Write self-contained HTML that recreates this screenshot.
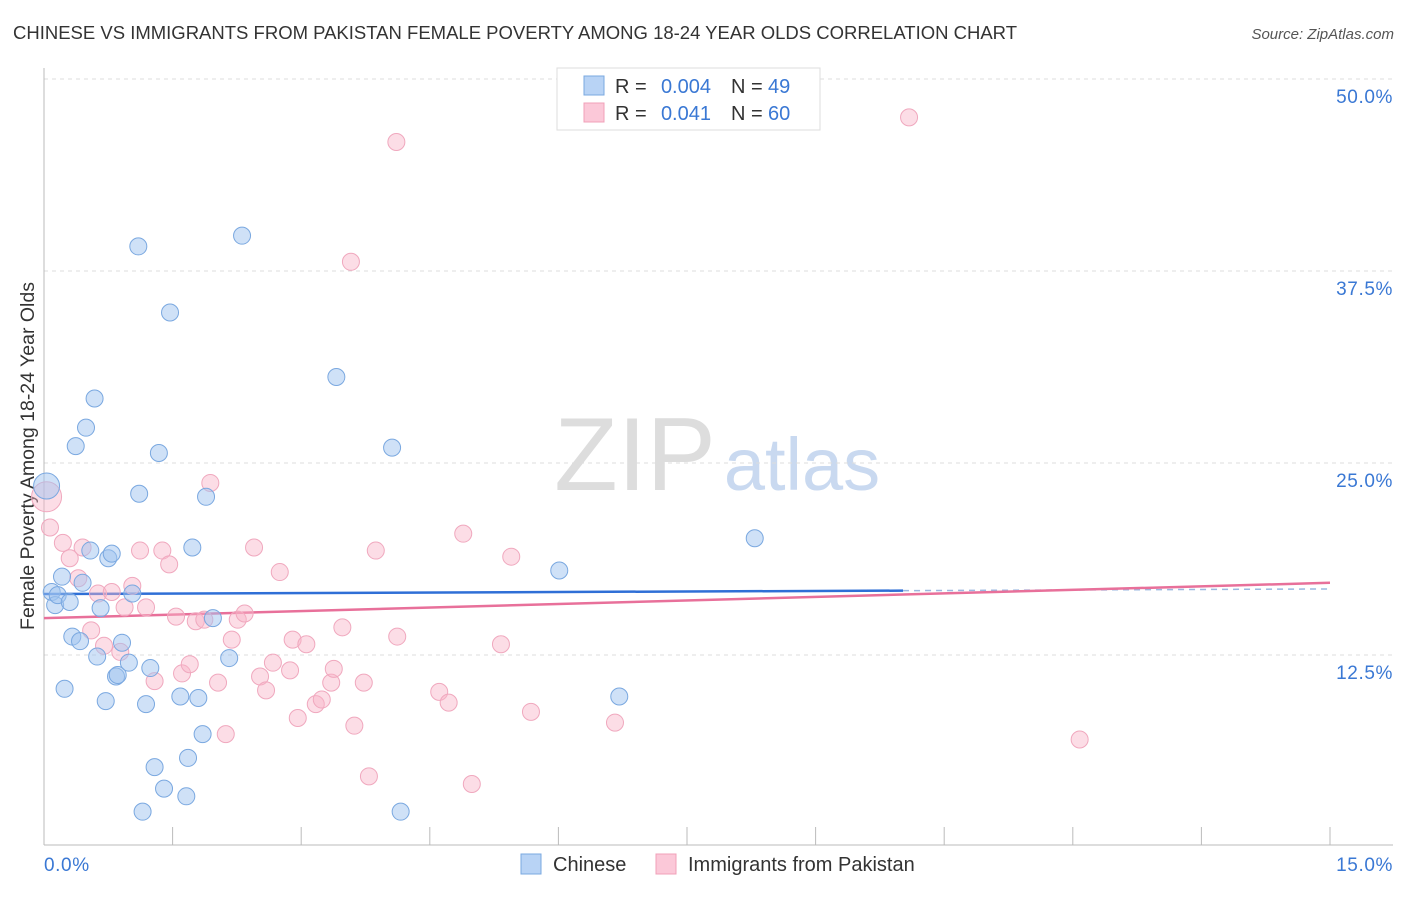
<!DOCTYPE html>
<html><head><meta charset="utf-8"><style>
body{margin:0;background:#fff;font-family:"Liberation Sans",sans-serif}
svg text{font-family:"Liberation Sans",sans-serif}
</style></head><body>
<svg id="chart" width="1406" height="892" viewBox="0 0 1406 892" xmlns="http://www.w3.org/2000/svg">
<text x="13" y="39" font-size="18.5" fill="#333">CHINESE VS IMMIGRANTS FROM PAKISTAN FEMALE POVERTY AMONG 18-24 YEAR OLDS CORRELATION CHART</text>
<text x="1394" y="39" font-size="15" fill="#555" font-style="italic" text-anchor="end">Source: ZipAtlas.com</text>
<g>
<text x="635" y="490" font-size="104" fill="#ddd" font-family="Liberation Serif" text-anchor="middle">ZIP</text>
<text x="802" y="490" font-size="74" fill="#c9d9f0" text-anchor="middle">atlas</text>
</g>
<g id="grid"></g>
<g id="axes"></g>
<text transform="translate(34,456) rotate(-90)" font-size="19.5" fill="#333" text-anchor="middle">Female Poverty Among 18-24 Year Olds</text>
<g id="trends"></g>
<g id="points"></g>
<g>
<rect x="557" y="68" width="263" height="62" fill="#fff" stroke="#ddd"/>
<rect x="584" y="76" width="20" height="19" fill="#b8d3f5" stroke="#7aa8e0"/>
<rect x="584" y="103" width="20" height="19" fill="#fbc8d8" stroke="#f0a0b8"/>
<text x="615" y="93" font-size="20" fill="#333">R =</text>
<text x="711" y="93" font-size="20" fill="#3a78d4" text-anchor="end">0.004</text>
<text x="731" y="93" font-size="20" fill="#333">N =</text>
<text x="768" y="93" font-size="20" fill="#3a78d4">49</text>
<text x="615" y="120" font-size="20" fill="#333">R =</text>
<text x="711" y="120" font-size="20" fill="#3a78d4" text-anchor="end">0.041</text>
<text x="731" y="120" font-size="20" fill="#333">N =</text>
<text x="768" y="120" font-size="20" fill="#3a78d4">60</text>
</g>
<g>
<rect x="521" y="854" width="20" height="20" fill="#b8d3f5" stroke="#7aa8e0"/>
<text x="553" y="871" font-size="20" fill="#333">Chinese</text>
<rect x="656" y="854" width="20" height="20" fill="#fbc8d8" stroke="#f0a0b8"/>
<text x="688" y="871" font-size="20" fill="#333">Immigrants from Pakistan</text>
</g>
</svg>
<script>
const yTicks=[12.5,25,37.5,50];
const yTickLabels=["12.5%","25.0%","37.5%","50.0%"];
const xTickCount=10;
const xMin=0,xMax=15,yMin=0,yMax=50;
const blueX=[0.03,0.09,0.13,0.16,0.21,0.30,0.24,0.33,0.37,0.42,0.45,0.49,0.54,0.59,0.62,0.66,0.72,0.75,0.79,0.84,0.86,0.91,0.99,1.03,1.10,1.11,1.15,1.19,1.24,1.29,1.34,1.40,1.47,1.59,1.66,1.68,1.73,1.80,1.85,1.89,1.97,2.16,2.31,3.41,4.06,4.16,6.01,6.71,8.29];
const blueY=[23.5,16.6,15.75,16.4,17.6,15.95,10.3,13.7,26.1,13.4,17.2,27.3,19.3,29.2,12.4,15.55,9.5,18.8,19.1,11.1,11.2,13.3,12.0,16.5,39.1,23.0,2.3,9.3,11.65,5.2,25.65,3.8,34.8,9.8,3.3,5.8,19.5,9.7,7.35,22.8,14.9,12.3,39.8,30.6,26.0,2.3,18.0,9.8,20.1];
const pinkX=[0.03,0.07,0.22,0.30,0.40,0.45,0.55,0.63,0.70,0.79,0.89,0.94,1.03,1.12,1.19,1.29,1.38,1.46,1.54,1.61,1.70,1.77,1.87,1.94,2.03,2.12,2.19,2.26,2.34,2.45,2.52,2.59,2.67,2.75,2.87,2.90,2.96,3.06,3.17,3.24,3.35,3.38,3.48,3.58,3.62,3.73,3.79,3.87,4.11,4.12,4.61,4.72,4.89,4.99,5.33,5.45,5.68,6.66,10.09,12.08];
const pinkY=[22.8,20.8,19.8,18.8,17.5,19.5,14.1,16.5,13.1,16.6,12.7,15.6,17.0,19.3,15.6,10.8,19.3,18.4,15.0,11.3,11.9,14.7,14.8,23.7,10.7,7.35,13.5,14.8,15.2,19.5,11.1,10.2,12.0,17.9,11.5,13.5,8.4,13.2,9.3,9.6,10.7,11.6,14.3,38.1,7.9,10.7,4.6,19.3,45.9,13.7,10.1,9.4,20.4,4.1,13.2,18.9,8.8,8.1,47.5,7.0];
const blueTrend=[16.47,16.8];
const pinkTrend=[14.9,17.2];
const blueSolidEnd=10.02;

const X0=44,X1=1330,Y0=847,Y1=79;
const sx=v=>X0+(v-xMin)/(xMax-xMin)*(X1-X0);
const sy=v=>Y0-(v-yMin)/(yMax-yMin)*(Y0-Y1);
const NS="http://www.w3.org/2000/svg";
function mk(tag,attrs,parent){const e=document.createElementNS(NS,tag);for(const k in attrs)e.setAttribute(k,attrs[k]);parent.appendChild(e);return e;}
const grid=document.getElementById('grid'),axes=document.getElementById('axes'),tr=document.getElementById('trends'),pts=document.getElementById('points');
yTicks.forEach((t,i)=>{
  const l=mk('line',{x1:X0,x2:1393,y1:sy(t),y2:sy(t),stroke:'#ddd','stroke-dasharray':'4,4'},grid);
  
  
  const tx=mk('text',{x:1393,y:sy(t)+24,'font-size':19,'letter-spacing':0.6,fill:'#3a78d4','text-anchor':'end'},axes);
  tx.textContent=yTickLabels[i];
  
  
});
const xa=mk('line',{x1:X0,x2:1393,y1:845,y2:845,stroke:'#bbb'},axes);


const ya=mk('line',{x1:X0,x2:X0,y1:68,y2:845,stroke:'#bbb'},axes);


for(let i=1;i<=xTickCount;i++){
  const v=xMin+i*(xMax-xMin)/xTickCount;
  const t=mk('line',{x1:sx(v),x2:sx(v),y1:827,y2:845,stroke:'#bbb'},axes);
  
  
}
const xl0=mk('text',{x:44,y:871,'font-size':19,'letter-spacing':0.6,fill:'#3a78d4'},axes);xl0.textContent='0.0%';


const xl1=mk('text',{x:1393,y:871,'font-size':19,'letter-spacing':0.6,fill:'#3a78d4','text-anchor':'end'},axes);xl1.textContent='15.0%';



function drawPts(xs,ys,fill,stroke,name){
  xs.forEach((x,i)=>{
    const r=i===0?(name==='chinese-point'?13:15):8.5;
    const c=mk('circle',{cx:sx(x),cy:sy(ys[i]),r:r,fill:fill,stroke:stroke,'stroke-width':1},pts);
    
    
  });
}
drawPts(pinkX,pinkY,'rgba(248,180,200,0.45)','#f0a8be','pakistan-point');
drawPts(blueX,blueY,'rgba(160,196,240,0.5)','#7aa8e0','chinese-point');
const bl=v=>blueTrend[0]+(blueTrend[1]-blueTrend[0])*(v-xMin)/(xMax-xMin);
const t1=mk('line',{x1:sx(xMin),y1:sy(blueTrend[0]),x2:sx(blueSolidEnd),y2:sy(bl(blueSolidEnd)),stroke:'#2f6fd6','stroke-width':2.5},tr);


const t2=mk('line',{x1:sx(blueSolidEnd),y1:sy(bl(blueSolidEnd)),x2:sx(xMax),y2:sy(blueTrend[1]),stroke:'#9bb8e0','stroke-width':1.5,'stroke-dasharray':'6,5'},tr);


const t3=mk('line',{x1:sx(xMin),y1:sy(pinkTrend[0]),x2:sx(xMax),y2:sy(pinkTrend[1]),stroke:'#e8709a','stroke-width':2.5},tr);


</script>
</body></html>
